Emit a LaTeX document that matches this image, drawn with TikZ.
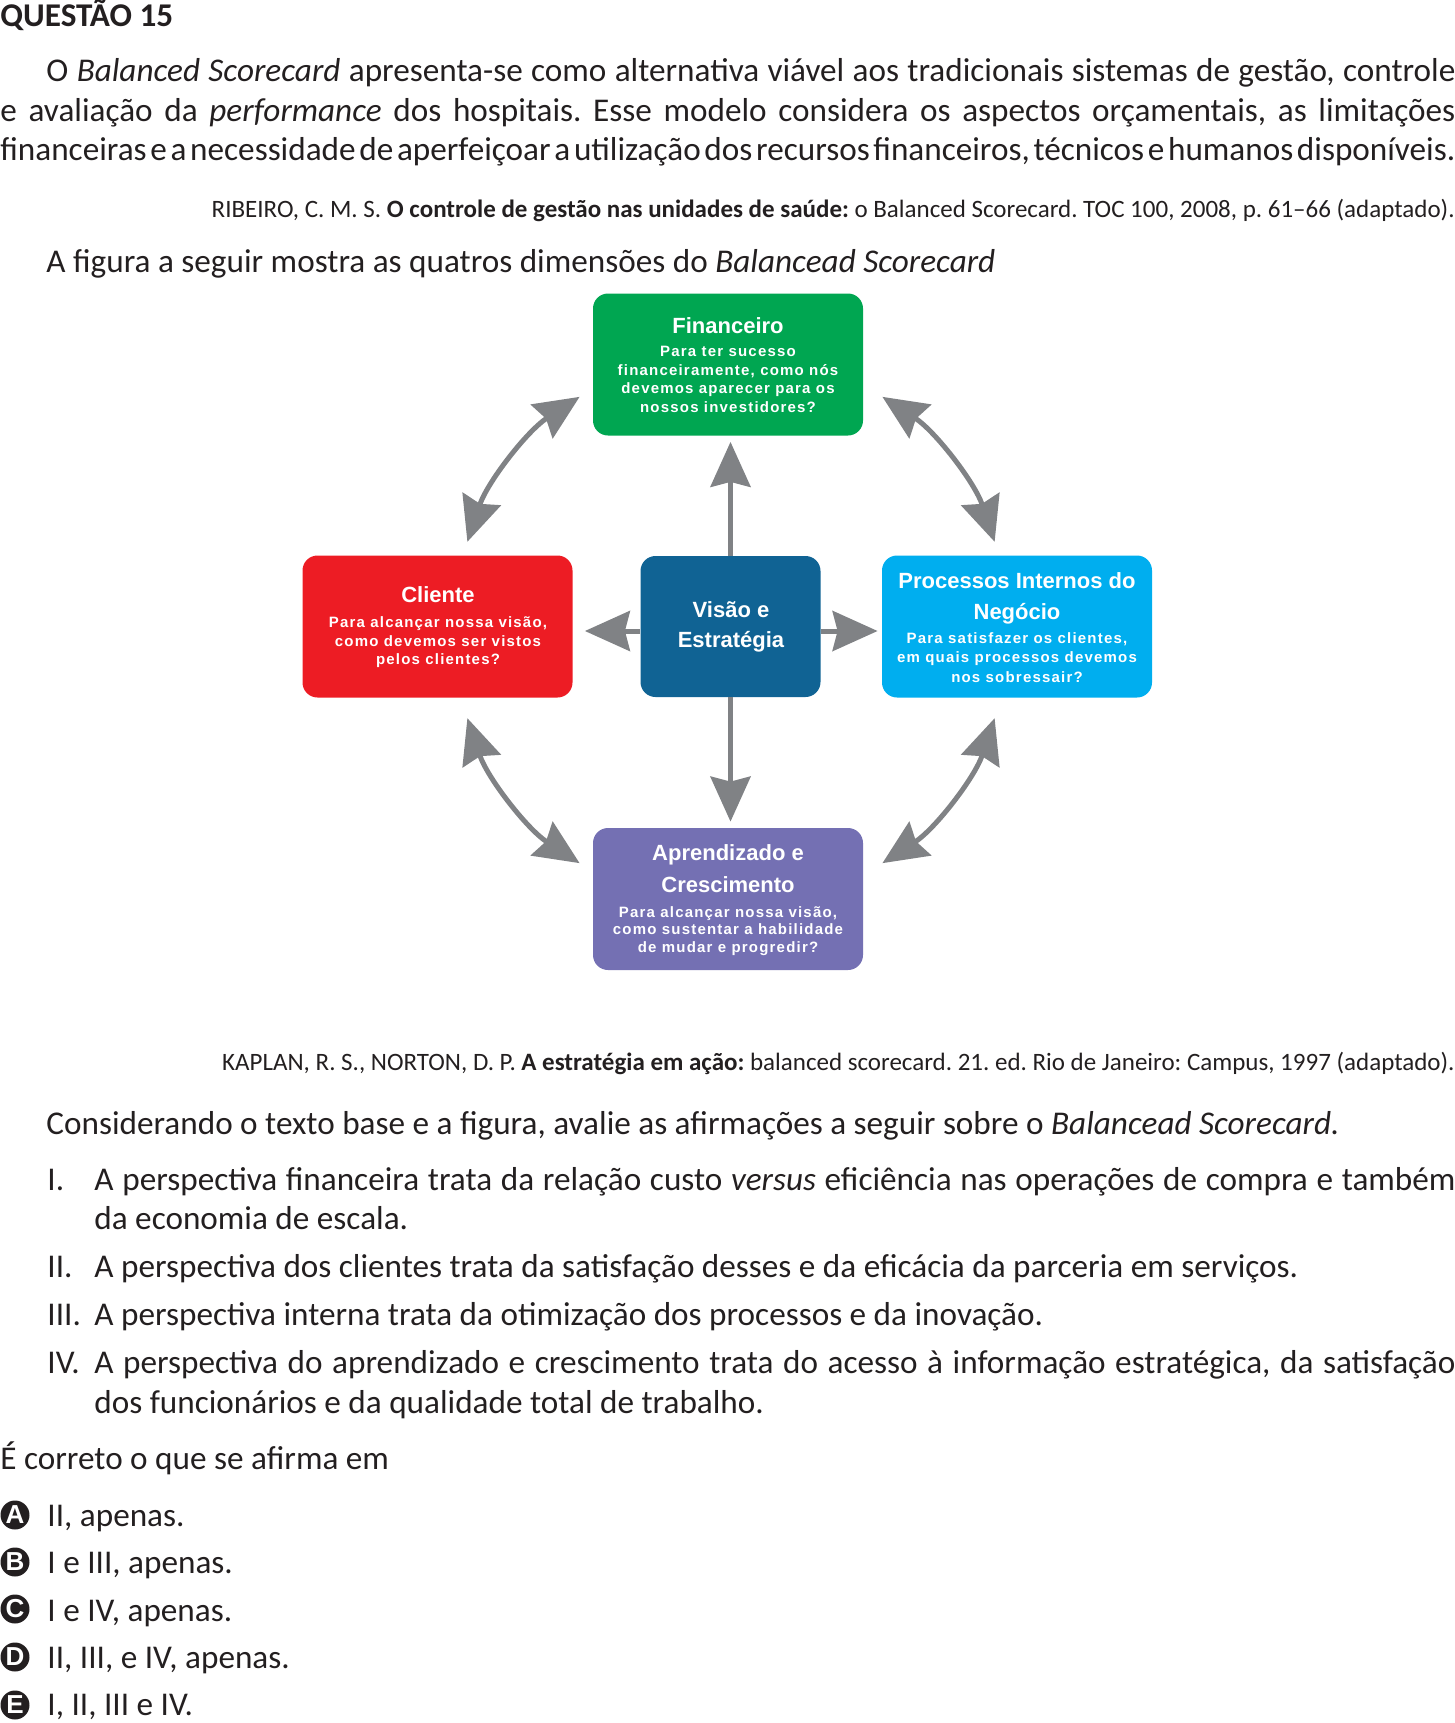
\documentclass[tikz,border=0pt]{standalone}
\usepackage{fontspec}
\setmainfont{Carlito}
\newfontfamily\diagfont{Liberation Sans}
\newfontfamily\diagsp{Liberation Sans}[LetterSpace=8]
\usetikzlibrary{arrows.meta}
\definecolor{fgreen}{HTML}{00A651}
\definecolor{fred}{HTML}{ED1C24}
\definecolor{fdblue}{HTML}{106394}
\definecolor{flblue}{HTML}{00AEEF}
\definecolor{fpurple}{HTML}{7470B3}
\definecolor{agray}{HTML}{808285}
\definecolor{txt}{HTML}{231F20}
\tikzset{
  box/.style={rounded corners=7.5pt, minimum width=135pt, minimum height=71pt, inner sep=0pt},
  ttl/.style={anchor=base, inner sep=0pt, text=white, font=\diagfont\bfseries\fontsize{11pt}{13pt}\selectfont},
  sub/.style={anchor=base, inner sep=0pt, text=white, font=\diagsp\bfseries\fontsize{7.5pt}{9pt}\selectfont},
  body/.style={anchor=base west, inner sep=0pt, text=txt, font=\fontsize{16.6pt}{20pt}\selectfont},
  cite/.style={anchor=base east, inner sep=0pt, text=txt, font=\fontsize{12.5pt}{14pt}\selectfont},
  arr/.style={draw=agray, line width=2.5pt, -{Stealth[length=22.5pt,width=20pt,inset=2.5pt]}},
  darr/.style={draw=agray, line width=2.5pt, {Stealth[length=22.5pt,width=20pt,inset=2.5pt]}-{Stealth[length=22.5pt,width=20pt,inset=2.5pt]}},
  opt/.style={circle, fill=txt, minimum size=14.5pt, inner sep=0pt, text=white, font=\diagfont\bfseries\fontsize{13pt}{13pt}\selectfont},
}
\begin{document}
\frenchspacing
\begin{tikzpicture}[x=0.5pt,y=-0.5pt]
\useasboundingbox (0,0) rectangle (1455,1723);
% header
\node[body, font=\bfseries\fontsize{16.6pt}{18pt}\selectfont] (q) at (0,27) {QUESTÃO 15};
\node[body] (p1) at (46,82) {\makebox[704.5pt][s]{O \textit{Balanced Scorecard} apresenta-se como alternativa viável aos tradicionais sistemas de gestão, controle}};
\node[body] (p2) at (0,122) {\makebox[727.5pt][s]{e avaliação da \textit{performance} dos hospitais. Esse modelo considera os aspectos orçamentais, as limitações}};
\node[body] (p3) at (0,161) {\spaceskip=0.16em plus 0.2em minus 0.07em\makebox[727.5pt][s]{financeiras e a necessidade de aperfeiçoar a utilização dos recursos financeiros, técnicos e humanos disponíveis.}};
\node[cite] (c1) at (1455,217) {RIBEIRO, C. M. S. \textbf{O controle de gestão nas unidades de saúde:} o Balanced Scorecard. TOC 100, 2008, p. 61–66 (adaptado).};
\node[body] (p4) at (46,272) {A figura a seguir mostra as quatros dimensões do \textit{Balancead Scorecard}};
% boxes
\node[box, fill=fgreen] (fin) at (728,364.5) {};
\node[box, fill=fred] (cli) at (437.5,626.5) {};
\node[box, fill=fdblue, minimum width=90pt, minimum height=70.5pt] (vis) at (730.5,626.5) {};
\node[box, fill=flblue] (pro) at (1017,626.5) {};
\node[box, fill=fpurple] (apr) at (728,899) {};
% box texts
\node[ttl] (finT) at (728,333) {Financeiro};
\node[sub] (finS1) at (728,356) {Para ter sucesso};
\node[sub] (finS2) at (728,375) {financeiramente, como nós};
\node[sub] (finS3) at (728,393.5) {devemos aparecer para os};
\node[sub] (finS4) at (728,412) {nossos investidores?};
\node[ttl] (cliT) at (438,602) {Cliente};
\node[sub] (cliS1) at (438,627) {Para alcançar nossa visão,};
\node[sub] (cliS2) at (438,646) {como devemos ser vistos};
\node[sub] (cliS3) at (438,664) {pelos clientes?};
\node[ttl] (visT1) at (731,617) {Visão e};
\node[ttl] (visT2) at (731,647) {Estratégia};
\node[ttl] (proT1) at (1017,588) {Processos Internos do};
\node[ttl] (proT2) at (1017,619) {Negócio};
\node[sub] (proS1) at (1017,643) {Para satisfazer os clientes,};
\node[sub] (proS2) at (1017,662.5) {em quais processos devemos};
\node[sub] (proS3) at (1017,682) {nos sobressair?};
\node[ttl] (aprT1) at (728,860) {Aprendizado e};
\node[ttl] (aprT2) at (728,892) {Crescimento};
\node[sub] (aprS1) at (728,917) {Para alcançar nossa visão,};
\node[sub] (aprS2) at (728,934.5) {como sustentar a habilidade};
\node[sub] (aprS3) at (728,952) {de mudar e progredir?};
% straight arrows
\draw[arr, shorten >=3pt] (vis.north) -- (vis.north |- fin.south);
\draw[arr, shorten >=3pt] (vis.south) -- (vis.south |- apr.north);
\draw[arr, shorten >=6pt] ([yshift=-2.25pt]vis.west) -- ([yshift=-2.25pt]vis.west -| cli.east);
\draw[arr, shorten >=2pt] ([yshift=-2.25pt]vis.east) -- ([yshift=-2.25pt]vis.east -| pro.west);
% curved arrows
\coordinate (ctr) at (731,630);
\draw[darr] ([shift={(198.5:278)}]ctr) arc[start angle=198.5, end angle=237, radius=278];
\draw[darr] ([shift={(-18.5:278)}]ctr) arc[start angle=-18.5, end angle=-57, radius=278];
\draw[darr] ([shift={(161.5:278)}]ctr) arc[start angle=161.5, end angle=123, radius=278];
\draw[darr] ([shift={(18.5:278)}]ctr) arc[start angle=18.5, end angle=57, radius=278];
% source
\node[cite] (c2) at (1455,1070) {KAPLAN, R. S., NORTON, D. P. \textbf{A estratégia em ação:} balanced scorecard. 21. ed. Rio de Janeiro: Campus, 1997 (adaptado).};
\node[body] (p5) at (46,1134) {Considerando o texto base e a figura, avalie as afirmações a seguir sobre o \textit{Balancead Scorecard.}};
% items
\node[body] (n1) at (47,1190) {I.};
\node[body] (i1a) at (94,1190) {\makebox[680.5pt][s]{A perspectiva financeira trata da relação custo \textit{versus} eficiência nas operações de compra e também}};
\node[body] (i1b) at (94,1229) {da economia de escala.};
\node[body] (n2) at (47,1277) {II.};
\node[body] (i2) at (94,1277) {A perspectiva dos clientes trata da satisfação desses e da eficácia da parceria em serviços.};
\node[body] (n3) at (47,1325) {III.};
\node[body] (i3) at (94,1325) {A perspectiva interna trata da otimização dos processos e da inovação.};
\node[body] (n4) at (47,1373) {IV.};
\node[body] (i4a) at (94,1373) {\makebox[680.5pt][s]{A perspectiva do aprendizado e crescimento trata do acesso à informação estratégica, da satisfação}};
\node[body] (i4b) at (94,1413) {dos funcionários e da qualidade total de trabalho.};
\node[body] (ask) at (0,1469) {É correto o que se afirma em};
% options
\node[opt] (oA) at (15,1515) {A};
\node[opt] (oB) at (15,1562) {B};
\node[opt] (oC) at (15,1609) {C};
\node[opt] (oD) at (15,1657) {D};
\node[opt] (oE) at (15,1705) {E};
\node[body] (tA) at (47,1526) {II, apenas.};
\node[body] (tB) at (47,1573) {I e III, apenas.};
\node[body] (tC) at (47,1621) {I e IV, apenas.};
\node[body] (tD) at (47,1668) {II, III, e IV, apenas.};
\node[body] (tE) at (47,1715) {I, II, III e IV.};
\end{tikzpicture}
\end{document}
